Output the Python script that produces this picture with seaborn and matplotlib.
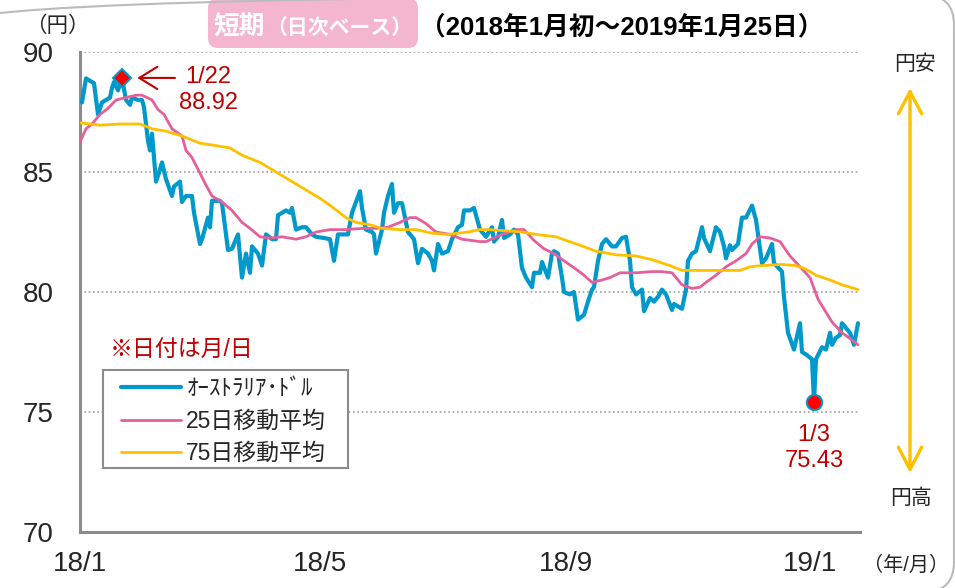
import pandas as pd
import seaborn as sns
import matplotlib.pyplot as plt
import matplotlib.dates as mdates
from matplotlib.patches import FancyBboxPatch, Rectangle
from matplotlib.transforms import IdentityTransform
from matplotlib.ticker import FuncFormatter

# 豪ドル/円 日次（目視で読み取り）
aud_dates = [
    "2018-01-02", "2018-01-04", "2018-01-08", "2018-01-10", "2018-01-12", "2018-01-16",
    "2018-01-17", "2018-01-18", "2018-01-20", "2018-01-22", "2018-01-24", "2018-01-26",
    "2018-01-27", "2018-01-30", "2018-02-01", "2018-02-02", "2018-02-04", "2018-02-05",
    "2018-02-06", "2018-02-08", "2018-02-10", "2018-02-11", "2018-02-13", "2018-02-16",
    "2018-02-17", "2018-02-20", "2018-02-21", "2018-02-23", "2018-02-26", "2018-02-27",
    "2018-03-02", "2018-03-03", "2018-03-06", "2018-03-07", "2018-03-08", "2018-03-12",
    "2018-03-13", "2018-03-16", "2018-03-18", "2018-03-21", "2018-03-23", "2018-03-25",
    "2018-03-27", "2018-03-28", "2018-03-31", "2018-04-02", "2018-04-04", "2018-04-07",
    "2018-04-09", "2018-04-10", "2018-04-12", "2018-04-14", "2018-04-16", "2018-04-17",
    "2018-04-19", "2018-04-22", "2018-04-24", "2018-04-27", "2018-04-29", "2018-05-03",
    "2018-05-06", "2018-05-08", "2018-05-10", "2018-05-12", "2018-05-15", "2018-05-17",
    "2018-05-21", "2018-05-22", "2018-05-24", "2018-05-27", "2018-05-28", "2018-05-29",
    "2018-06-01", "2018-06-02", "2018-06-04", "2018-06-06", "2018-06-07", "2018-06-09",
    "2018-06-11", "2018-06-14", "2018-06-17", "2018-06-19", "2018-06-21", "2018-06-24",
    "2018-06-26", "2018-06-27", "2018-06-29", "2018-07-01", "2018-07-04", "2018-07-06",
    "2018-07-09", "2018-07-11", "2018-07-12", "2018-07-15", "2018-07-17", "2018-07-20",
    "2018-07-23", "2018-07-26", "2018-07-27", "2018-07-29", "2018-07-31", "2018-08-01",
    "2018-08-04", "2018-08-06", "2018-08-08", "2018-08-10", "2018-08-12", "2018-08-15",
    "2018-08-16", "2018-08-19", "2018-08-20", "2018-08-23", "2018-08-25", "2018-08-26",
    "2018-08-28", "2018-08-30", "2018-08-31", "2018-09-03", "2018-09-05", "2018-09-07",
    "2018-09-10", "2018-09-12", "2018-09-14", "2018-09-15", "2018-09-17", "2018-09-19",
    "2018-09-21", "2018-09-24", "2018-09-26", "2018-09-29", "2018-10-01", "2018-10-03",
    "2018-10-04", "2018-10-06", "2018-10-09", "2018-10-10", "2018-10-13", "2018-10-15",
    "2018-10-17", "2018-10-19", "2018-10-21", "2018-10-24", "2018-10-25", "2018-10-29",
    "2018-10-31", "2018-11-01", "2018-11-03", "2018-11-05", "2018-11-08", "2018-11-09",
    "2018-11-12", "2018-11-15", "2018-11-17", "2018-11-19", "2018-11-20", "2018-11-22",
    "2018-11-23", "2018-11-26", "2018-11-28", "2018-11-30", "2018-12-03", "2018-12-05",
    "2018-12-08", "2018-12-10", "2018-12-13", "2018-12-14", "2018-12-18", "2018-12-19",
    "2018-12-21", "2018-12-24", "2018-12-27", "2018-12-28", "2018-12-30", "2019-01-02",
    "2019-01-03", "2019-01-04", "2019-01-07", "2019-01-09", "2019-01-11", "2019-01-12",
    "2019-01-14", "2019-01-16", "2019-01-17", "2019-01-19", "2019-01-21", "2019-01-23",
    "2019-01-25",
]
aud_values = [
    87.9, 88.9, 88.7, 87.4, 87.9, 88.1,
    88.5, 88.75, 88.4, 88.92, 88.0, 87.8,
    88.1, 88.0, 88.0, 87.7, 86.3, 85.9,
    86.6, 84.6, 85.1, 85.4, 84.7, 84.0,
    84.4, 84.6, 83.75, 84.0, 84.0, 83.3,
    82.0, 82.2, 83.1, 82.7, 83.8, 83.8,
    83.7, 81.75, 81.8, 82.4, 80.6, 81.6,
    80.8, 81.9, 81.6, 81.1, 82.4, 82.2,
    82.2, 83.2, 83.3, 83.4, 83.3, 83.5,
    82.6, 82.7, 82.7, 82.4, 82.3, 82.25,
    82.2, 81.3, 82.4, 82.4, 82.4, 83.3,
    84.2, 83.5, 82.6, 82.5, 82.4, 81.6,
    82.6, 83.3, 84.0, 84.5, 83.3, 83.7,
    83.7, 82.5, 82.2, 81.2, 81.8, 81.6,
    81.3, 80.9, 82.0, 81.6, 81.7, 82.2,
    82.7, 82.8, 83.4, 83.4, 83.5, 82.6,
    82.3, 82.7, 82.1, 82.3, 83.0, 82.25,
    82.4, 82.6, 82.4, 81.0, 80.6, 80.2,
    80.8, 80.8, 81.25, 80.6, 81.6, 81.7,
    81.6, 80.6, 80.0, 79.9, 80.0, 78.85,
    79.05, 79.6, 80.1, 80.2, 81.3, 82.0,
    82.2, 81.9, 81.9, 82.25, 82.3, 81.3,
    80.2, 79.9, 80.1, 79.2, 79.75, 79.6,
    79.8, 80.1, 79.9, 79.25, 79.5, 79.3,
    80.1, 81.3, 81.6, 81.7, 82.7, 82.25,
    81.7, 82.7, 82.5, 81.9, 81.4, 81.95,
    81.75, 82.0, 83.1, 83.1, 83.6, 83.0,
    81.2, 81.4, 82.0, 81.2, 80.85, 79.8,
    78.3, 77.6, 78.7, 77.5, 77.4, 77.2,
    75.43, 77.2, 77.7, 77.6, 78.3, 77.8,
    78.1, 78.2, 78.7, 78.5, 78.3, 77.8,
    78.7,
]

# 25日移動平均
ma25_dates = [
    "2018-01-01", "2018-01-04", "2018-01-07", "2018-01-11", "2018-01-15", "2018-01-19",
    "2018-01-24", "2018-01-29", "2018-02-01", "2018-02-06", "2018-02-09", "2018-02-12",
    "2018-02-16", "2018-02-21", "2018-02-23", "2018-02-26", "2018-03-02", "2018-03-05",
    "2018-03-08", "2018-03-13", "2018-03-18", "2018-03-23", "2018-03-27", "2018-04-01",
    "2018-04-06", "2018-04-12", "2018-04-19", "2018-04-24", "2018-04-29", "2018-05-06",
    "2018-05-14", "2018-05-22", "2018-05-29", "2018-06-04", "2018-06-10", "2018-06-15",
    "2018-06-18", "2018-06-23", "2018-06-28", "2018-07-05", "2018-07-11", "2018-07-20",
    "2018-07-23", "2018-07-31", "2018-08-07", "2018-08-11", "2018-08-16", "2018-08-21",
    "2018-08-26", "2018-08-31", "2018-09-06", "2018-09-10", "2018-09-14", "2018-09-19",
    "2018-09-23", "2018-09-28", "2018-10-06", "2018-10-14", "2018-10-19", "2018-10-24",
    "2018-10-29", "2018-11-03", "2018-11-07", "2018-11-10", "2018-11-15", "2018-11-20",
    "2018-11-25", "2018-11-30", "2018-12-03", "2018-12-07", "2018-12-12", "2018-12-17",
    "2018-12-22", "2018-12-27", "2019-01-01", "2019-01-05", "2019-01-12", "2019-01-17",
    "2019-01-22", "2019-01-25",
]
ma25_values = [
    86.25, 86.8, 87.0, 87.4, 87.65, 88.0,
    88.1, 88.2, 88.2, 88.0, 87.6, 87.4,
    86.8, 86.5, 85.9, 85.6, 84.95, 84.45,
    84.0, 83.75, 83.4, 82.9, 82.65, 82.3,
    82.25, 82.3, 82.2, 82.3, 82.5, 82.6,
    82.6, 82.65, 82.65, 82.7, 82.9, 83.1,
    83.1, 82.85, 82.5, 82.4, 82.2, 82.1,
    82.1, 82.4, 82.6, 82.6, 82.15, 81.8,
    81.6, 81.3, 80.95, 80.7, 80.4, 80.5,
    80.6, 80.8, 80.8, 80.85, 80.85, 80.8,
    80.3, 80.15, 80.2, 80.4, 80.7, 81.05,
    81.3, 81.6, 82.0, 82.3, 82.25, 82.1,
    81.5, 81.05, 80.6, 79.7, 78.75, 78.3,
    78.0, 77.8,
]

# 75日移動平均
ma75_dates = [
    "2018-01-01", "2018-01-11", "2018-01-21", "2018-01-31", "2018-02-06", "2018-02-13",
    "2018-02-21", "2018-03-02", "2018-03-10", "2018-03-17", "2018-03-23", "2018-04-01",
    "2018-04-09", "2018-04-16", "2018-04-24", "2018-05-01", "2018-05-07", "2018-05-14",
    "2018-05-19", "2018-05-26", "2018-06-01", "2018-06-10", "2018-06-18", "2018-06-26",
    "2018-07-04", "2018-07-14", "2018-07-20", "2018-07-24", "2018-08-02", "2018-08-10",
    "2018-08-17", "2018-08-27", "2018-09-01", "2018-09-08", "2018-09-16", "2018-09-26",
    "2018-10-06", "2018-10-14", "2018-10-23", "2018-10-29", "2018-11-08", "2018-11-18",
    "2018-11-27", "2018-12-02", "2018-12-08", "2018-12-18", "2018-12-25", "2018-12-30",
    "2019-01-04", "2019-01-11", "2019-01-17", "2019-01-25",
]
ma75_values = [
    87.05, 86.95, 87.0, 87.0, 86.8, 86.7,
    86.5, 86.2, 86.1, 86.0, 85.7, 85.4,
    85.0, 84.65, 84.25, 83.9, 83.55, 83.1,
    82.9, 82.8, 82.65, 82.6, 82.6, 82.45,
    82.4, 82.5, 82.6, 82.6, 82.55, 82.5,
    82.4, 82.3, 82.15, 81.95, 81.7, 81.55,
    81.5, 81.35, 81.1, 80.9, 80.9, 80.9,
    80.9, 81.05, 81.1, 81.15, 81.1, 80.95,
    80.7, 80.5, 80.3, 80.1,
]

peak_date, peak_value = "2018-01-22", 88.92
low_date, low_value = "2019-01-03", 75.43

BLUE = "#0099CC"
PINK = "#E5609A"
YELLOW = "#FFC000"
RED = "#C00000"
GRAY = "#8C8C8C"

sns.set_style("white")
plt.rcParams["font.family"] = ["Liberation Sans", "Noto Sans CJK JP"]

W, H = 955, 588
fig = plt.figure(figsize=(W / 100, H / 100), dpi=100)
ax = fig.add_axes([80 / W, 56 / H, 780 / W, 480 / H])


def px(x, y):
    return x / W, 1 - y / H


sns.lineplot(x=pd.to_datetime(aud_dates), y=aud_values, ax=ax, color=BLUE,
             linewidth=3, label="ｵｰｽﾄﾗﾘｱ･ﾄﾞﾙ", zorder=3)
sns.lineplot(x=pd.to_datetime(ma25_dates), y=ma25_values, ax=ax, color=PINK,
             linewidth=2, label="25日移動平均", zorder=4)
sns.lineplot(x=pd.to_datetime(ma75_dates), y=ma75_values, ax=ax, color=YELLOW,
             linewidth=2, label="75日移動平均", zorder=4)

ax.plot(pd.Timestamp(peak_date), peak_value, marker="D", ms=9, mfc="red",
        mec=BLUE, mew=1.5, zorder=6)
ax.plot(pd.Timestamp(low_date), low_value, marker="o", ms=11, mfc="red",
        mec=BLUE, mew=1.5, zorder=6)

ax.annotate("", xy=(pd.Timestamp(peak_date), peak_value), xytext=(53, 0),
            textcoords="offset pixels",
            arrowprops=dict(arrowstyle="->,head_length=0.65,head_width=0.4",
                            color=RED, lw=1.5, shrinkA=0, shrinkB=11,
                            mutation_scale=20))
ax.annotate(f"1/22\n{peak_value:.2f}", xy=(pd.Timestamp(peak_date), peak_value),
            xytext=(86, -12), textcoords="offset pixels", ha="center", va="center",
            color=RED, fontsize=17, linespacing=1.25)
ax.annotate(f"1/3\n{low_value:.2f}", xy=(pd.Timestamp(low_date), low_value),
            xytext=(0, -46), textcoords="offset pixels", ha="center", va="center",
            color=RED, fontsize=17, linespacing=1.25)

# 軸
ax.set_xlim(pd.Timestamp("2018-01-01"), pd.Timestamp("2019-01-26"))
ax.set_ylim(70, 90)
ax.set_yticks([70, 75, 80, 85, 90])
ax.xaxis.set_major_locator(mdates.MonthLocator(bymonth=[1, 5, 9]))
ax.xaxis.set_minor_locator(mdates.MonthLocator())
ax.xaxis.set_major_formatter(FuncFormatter(
    lambda v, _: f"{mdates.num2date(v).year % 100}/{mdates.num2date(v).month}"))
ax.set_xlabel("")
ax.set_ylabel("")
ax.tick_params(axis="y", length=0, pad=19, labelsize=20)
ax.tick_params(axis="x", which="major", direction="inout", length=9.5, width=1.5,
               color=GRAY, pad=9, labelsize=20)
ax.tick_params(axis="x", which="minor", direction="in", length=4.5, width=1.5,
               color=GRAY)
for side in ["top", "right"]:
    ax.spines[side].set_visible(False)
for side in ["left", "bottom"]:
    ax.spines[side].set_color(GRAY)
    ax.spines[side].set_linewidth(2.2)
ax.grid(axis="y", color="#A0A0A0", linestyle=(0, (1, 1.6)), linewidth=1.2)
ax.grid(axis="x", visible=False)

# 凡例
handles, labels = ax.get_legend_handles_labels()
ax.legend(handles, labels, loc="upper left",
          bbox_to_anchor=((121 - 80) / 780, (532 - 377) / 480),
          frameon=False, borderpad=0, borderaxespad=0, handlelength=2.6,
          handletextpad=0.25, labelspacing=0.42, fontsize=16.5)
ax.add_patch(Rectangle(((103 - 80) / 780, (532 - 468) / 480), 245 / 780, 98 / 480,
                       transform=ax.transAxes, facecolor="white", edgecolor=GRAY,
                       linewidth=1.5, zorder=4.5))
ax.text((110 - 80) / 780, (532 - 350) / 480, "※日付は月/日", transform=ax.transAxes,
        ha="left", va="center", color=RED, fontsize=16.5)

# タイトル
fig.add_artist(FancyBboxPatch((208, H - 48), 210, 50,
                              boxstyle="round,pad=0,rounding_size=10",
                              transform=IdentityTransform(), facecolor="#F4B6CF",
                              edgecolor="none"))
fig.text(*px(214, 27), "短期", ha="left", va="center", color="white",
         fontsize=18.5, fontweight="bold")
fig.text(*px(266, 28), "（日次ベース）", ha="left", va="center", color="white",
         fontsize=15, fontweight="bold")
fig.text(*px(420, 27), "（2018年1月初～2019年1月25日）", ha="left", va="center",
         color="black", fontsize=18.5, fontweight="bold")
fig.text(*px(57, 26), "（円）", ha="center", va="center", fontsize=15.5)

# 右側の円安・円高
fig.text(*px(915, 64), "円安", ha="center", va="center", fontsize=15)
fig.text(*px(911, 498), "円高", ha="center", va="center", fontsize=15)
fig.text(*px(906, 565), "（年/月）", ha="center", va="center", fontsize=14.5)
ax.annotate("", xy=(910, H - 88), xytext=(910, H - 473), xycoords="figure pixels",
            textcoords="figure pixels", annotation_clip=False,
            arrowprops=dict(arrowstyle="<->,head_length=0.8,head_width=0.42",
                            color=YELLOW, lw=2.4, shrinkA=0, shrinkB=0,
                            mutation_scale=20))

# 外枠
fig.add_artist(FancyBboxPatch((-50, -4), 1004, 597,
                              boxstyle="round,pad=0,rounding_size=30",
                              transform=IdentityTransform(), facecolor="none",
                              edgecolor="#BBBBBB", linewidth=1.5))

fig.savefig("out.png", dpi=100)
